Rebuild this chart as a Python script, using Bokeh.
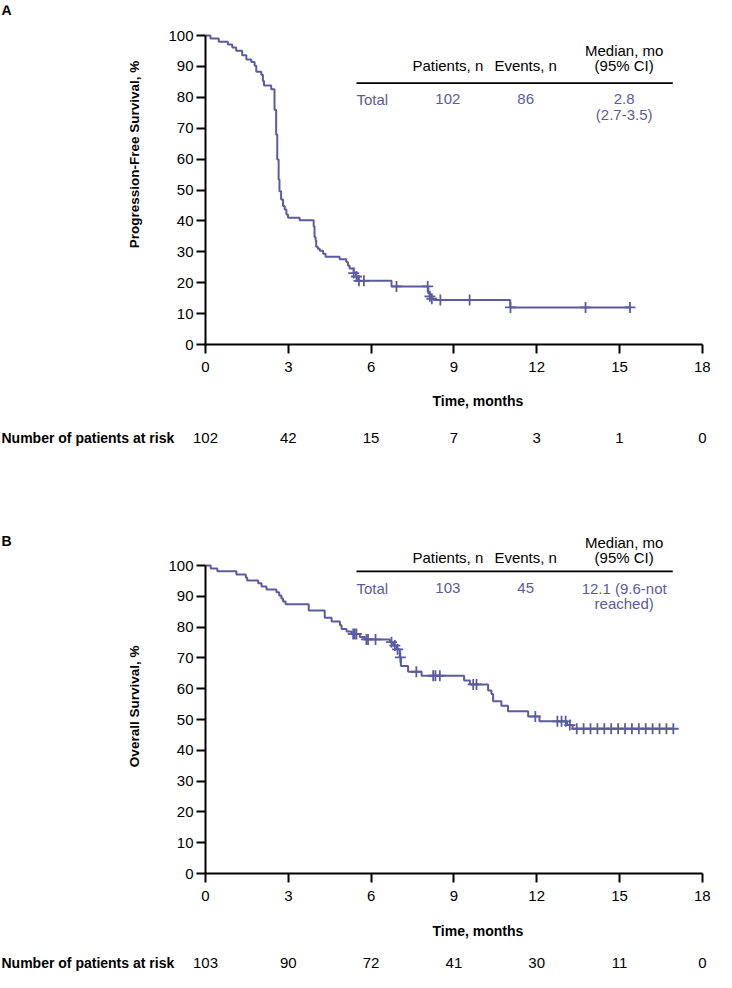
import math
from bokeh.plotting import figure
from bokeh.models import Range1d, FixedTicker, LinearAxis
from bokeh.layouts import column, row
from bokeh.embed import file_html
from bokeh.resources import INLINE
from bokeh.core.properties import value

# ---------------- data ----------------
month_ticks = [0, 3, 6, 9, 12, 15, 18]
pct_ticks = [0, 10, 20, 30, 40, 50, 60, 70, 80, 90, 100]

# Progression-free survival (step times in months, survival % after each step)
pfs_t = [0, 0.18, 0.48, 0.81, 0.97, 1.11, 1.33, 1.48, 1.66, 1.78, 1.84, 2.02, 2.08, 2.12, 2.38,
         2.50, 2.56, 2.60, 2.65, 2.68, 2.74, 2.81, 2.87, 2.93, 2.99, 3.41, 3.92, 3.95, 3.99, 4.01,
         4.07, 4.14, 4.26, 4.35, 4.86, 5.10, 5.16, 5.22, 5.37, 5.45, 5.53, 6.74, 8.07, 8.13, 8.19,
         8.27, 11.04, 15.42]
pfs_s = [100, 99.0, 98.0, 97.1, 96.1, 95.1, 93.6, 92.2, 91.4, 90.2, 88.3, 87.3, 85.3, 83.8, 82.6,
         76.0, 68.0, 59.9, 53.4, 49.6, 46.9, 44.8, 43.7, 42.1, 41.0, 40.2, 38.2, 34.8, 33.7, 31.6,
         31.0, 30.3, 29.4, 28.4, 27.6, 26.7, 25.6, 24.6, 23.1, 22.0, 20.6, 18.8, 16.5, 15.6, 14.8,
         14.4, 12.0, 12.0]
pfs_cens = [5.37, 5.47, 5.56, 5.74, 6.92, 8.05, 8.13, 8.20, 8.51, 9.57, 11.05, 13.77, 15.38]
pfs_risk = [102, 42, 15, 7, 3, 1, 0]
pfs_row = ["102", "86", "2.8", "(2.7-3.5)"]

# Overall survival
os_t = [0, 0.19, 0.43, 1.12, 1.46, 1.51, 1.91, 2.03, 2.21, 2.57, 2.67, 2.75, 2.81, 2.90, 3.74,
        4.32, 4.57, 4.87, 4.93, 5.11, 5.29, 5.59, 5.77, 6.68, 6.80, 6.92, 7.04, 7.08, 7.34, 7.83,
        9.37, 9.58, 10.24, 10.36, 10.42, 10.72, 10.96, 11.69, 12.10, 13.10, 13.30, 16.95]
os_s = [100, 99.0, 98.1, 97.1, 96.1, 95.1, 94.2, 93.2, 92.2, 91.3, 90.3, 89.3, 88.3, 87.4, 85.4,
        83.0, 81.8, 80.6, 79.4, 78.6, 77.8, 76.8, 76.0, 75.1, 74.0, 72.8, 70.2, 67.4, 65.5, 64.2,
        62.7, 61.4, 59.4, 58.3, 55.9, 54.5, 52.7, 51.0, 49.4, 48.2, 47.0, 47.0]
os_cens = [5.35, 5.41, 5.47, 5.83, 5.89, 6.16, 6.74, 6.86, 6.96, 7.06, 7.64, 8.25, 8.33, 8.49,
           9.70, 9.82, 11.95, 12.75, 12.90, 13.05, 13.20, 13.45, 13.70, 13.95, 14.20, 14.45,
           14.70, 14.95, 15.20, 15.45, 15.70, 15.95, 16.20, 16.45, 16.70, 16.95]
os_risk = [103, 90, 72, 41, 30, 11, 0]
os_row = ["103", "45", "12.1 (9.6-not", "reached)"]

CURVE = "#5a5c9f"
FONT = "Liberation Sans"
PX_PER_MONTH = 27.6
MAIN_LEFT = 48          # px from main-figure edge to the y axis
SIDE_W = 157            # width of the left title strip
TOTAL_W = 716


def surv_at(t, times, surv):
    idx = 0
    for i, tt in enumerate(times):
        if tt <= t:
            idx = i
    return surv[idx]


def blank(width, height, xr, yr):
    p = figure(width=width, height=height, x_range=xr, y_range=yr,
               output_backend="svg", toolbar_location=None, min_border=0,
               x_axis_type=None, y_axis_type=None)
    p.outline_line_color = None
    p.grid.visible = False
    return p


def txt(p, x, y, text, align="center", bold=False, color="black", size="15px", angle=0.0):
    p.text(x=[x], y=[y], text=[text], text_align=align, text_baseline="middle",
           text_font=value(FONT), text_font_size=size,
           text_font_style="bold" if bold else "normal",
           text_color=color, angle=angle)


def main_fig(height, top, bottom, ppp, times, surv, cens, header_y, rule_y, row_y, row2_y, row):
    width = TOTAL_W - SIDE_W
    right = 12
    frame_w = width - MAIN_LEFT - right
    frame_h = height - top - bottom
    p = figure(width=width, height=height,
               x_range=Range1d(0, frame_w / PX_PER_MONTH), y_range=Range1d(0, frame_h / ppp),
               output_backend="svg", toolbar_location=None,
               min_border_left=MAIN_LEFT, min_border_right=right,
               min_border_top=top, min_border_bottom=bottom,
               x_axis_type=None, y_axis_type=None)
    p.outline_line_color = None

    xa = LinearAxis(ticker=FixedTicker(ticks=month_ticks), bounds=(0, 18))
    ya = LinearAxis(ticker=FixedTicker(ticks=pct_ticks), bounds=(0, 100))
    for ax in (xa, ya):
        ax.axis_line_width = 2
        ax.axis_line_color = "black"
        ax.major_tick_line_width = 2
        ax.major_tick_line_color = "black"
        ax.major_tick_out = 9
        ax.major_tick_in = 0
        ax.minor_tick_line_color = None
        ax.major_label_text_font = FONT
        ax.major_label_text_font_size = "15px"
        ax.major_label_text_color = "black"
    xa.major_label_standoff = 8
    ya.major_label_standoff = 3
    p.add_layout(xa, "below")
    p.add_layout(ya, "left")

    p.step(x=times, y=surv, mode="after", line_color=CURVE, line_width=2)
    p.scatter(x=cens, y=[surv_at(t, times, surv) for t in cens], marker="cross", size=11,
              line_color=CURVE, line_width=1.8)

    p.segment(x0=[5.47], y0=[rule_y], x1=[16.93], y1=[rule_y], line_color="black", line_width=1.6)
    txt(p, 15.17, header_y + 15 / ppp, "Median, mo")
    txt(p, 15.17, header_y, "(95% CI)")
    txt(p, 8.78, header_y, "Patients, n")
    txt(p, 11.6, header_y, "Events, n")
    txt(p, 5.47, row_y, "Total", align="left", color=CURVE)
    txt(p, 8.78, row_y, row[0], color=CURVE)
    txt(p, 11.6, row_y, row[1], color=CURVE)
    txt(p, 15.17, row_y, row[2], color=CURVE)
    txt(p, 15.17, row2_y, row[3], color=CURVE)
    return p


def side_fig(height, letter, letter_y, title, title_y):
    p = blank(SIDE_W, height, Range1d(0, SIDE_W), Range1d(0, height))
    txt(p, 1, letter_y, letter, align="left", bold=True, size="14px")
    txt(p, 134, title_y, title, bold=True, size="13.5px", angle=math.pi / 2)
    return p


def risk_fig(height, risk, time_y, risk_y):
    x0 = -(SIDE_W + MAIN_LEFT) / PX_PER_MONTH
    p = blank(TOTAL_W, height, Range1d(x0, x0 + TOTAL_W / PX_PER_MONTH), Range1d(0, height))
    txt(p, 9.87, time_y, "Time, months", bold=True, size="14px")
    txt(p, x0 + 1 / PX_PER_MONTH, risk_y, "Number of patients at risk", align="left",
        bold=True, size="14px")
    p.text(x=month_ticks, y=[risk_y] * len(month_ticks), text=[str(n) for n in risk],
           text_align="center", text_baseline="middle", text_font=value(FONT),
           text_font_size="15px", text_color="black")
    return p


# Panel A (page y 8..494)
pA_main = main_fig(382, 5, 38, 3.09, pfs_t, pfs_s, pfs_cens,
                   header_y=90.3, rule_y=84.6, row_y=79.3, row2_y=74.5, row=pfs_row)
pA_side = side_fig(382, "A", 377, "Progression-Free Survival, %", 214)
pA_risk = risk_fig(104, pfs_risk, 86, 49)

# Panel B (page y 494..980)
pB_main = main_fig(424, 8, 37, 3.08, os_t, os_s, os_cens,
                   header_y=102.7, rule_y=98.1, row_y=92.6, row2_y=87.8, row=os_row)
pB_side = side_fig(424, "B", 372, "Overall Survival, %", 187)
pB_risk = risk_fig(62, os_risk, 42, 10)

layout = column(row(pA_side, pA_main), pA_risk, row(pB_side, pB_main), pB_risk)
open("out.html", "w").write(file_html(layout, INLINE))
